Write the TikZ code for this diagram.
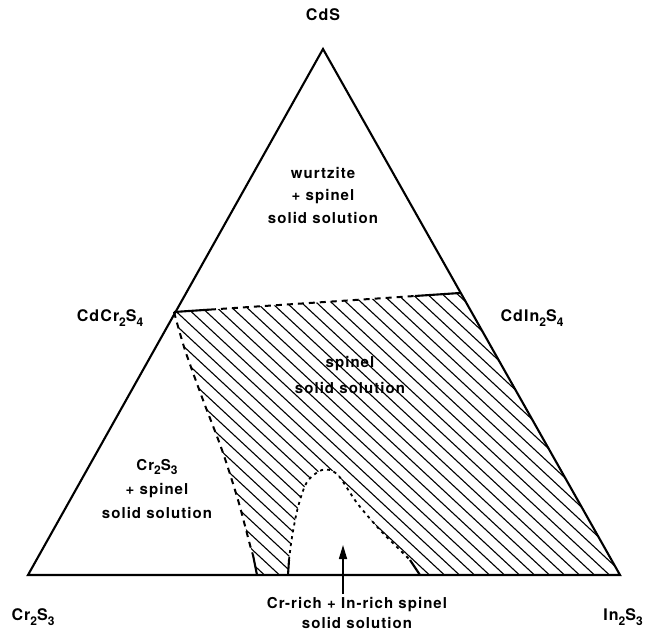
\documentclass[tikz,border=0pt]{standalone}
\usepackage{fontspec}
\setmainfont{TeX Gyre Heros}[LetterSpace=7]
\usetikzlibrary{arrows.meta}
\newcommand{\lowsub}[1]{\raisebox{-0.5ex}{\fontsize{12}{12}\selectfont #1}}
\begin{document}
\begin{tikzpicture}[x=1pt,y=-1pt,
  lbl/.style={font=\fontsize{15}{18}\selectfont\bfseries, align=center, inner sep=0pt},
  edgeline/.style={line width=2.1pt, line join=miter},
  dashbound/.style={line width=2pt, dash pattern=on 6pt off 5pt},
  dotbound/.style={line width=1.8pt, dash pattern=on 3pt off 4pt},
  hatchline/.style={line width=1.1pt}]
\useasboundingbox (0,0) rectangle (653,631);
% corners
\coordinate (T) at (323,49);
\coordinate (L) at (28,575);
\coordinate (R) at (620,575);
\coordinate (Cr) at (174,312);
\coordinate (In) at (460,293);
\coordinate (topA) at (210,309.6);
\coordinate (topB) at (415,296);
\coordinate (leftEndA) at (253,555);
\coordinate (leftEndB) at (257,575);
\coordinate (domeLa) at (288,575);
\coordinate (domeLb) at (289,560);
\coordinate (domeRa) at (410,560);
\coordinate (domeRb) at (420,575);
% hatching
\begin{scope}
\clip (Cr) -- (In) -- (R) -- (domeRb) -- (domeRa)
  -- plot[smooth] coordinates {(410,560) (400,550) (380,530) (357,503) (337,474) (322,470) (307,482) (298,507) (292,537) (289,560)}
  -- (domeLa) -- (leftEndB) -- (leftEndA)
  -- plot[smooth] coordinates {(253,555) (250,545) (238,500) (222,450) (203,400) (185,350) (174,312)} -- cycle;
\foreach \c in {-400,-385,...,700}
  \draw[hatchline] (\c,250) -- ++(400,372);
\end{scope}
% triangle
\draw[edgeline] (T) -- (L) -- (R) -- cycle;
% tie line CdCr2S4 - CdIn2S4
\draw[edgeline] (Cr) -- (topA);
\draw[dashbound] (topA) -- (topB);
\draw[edgeline] (topB) -- (In);
% left boundary
\draw[dashbound] plot[smooth] coordinates {(174,312) (185,350) (203,400) (222,450) (238,500) (250,545) (253,555)};
\draw[edgeline] (leftEndA) -- (leftEndB);
% dome
\draw[edgeline] (domeLa) -- (domeLb);
\draw[dotbound] plot[smooth] coordinates {(289,560) (292,537) (298,507) (307,482) (322,470) (337,474) (357,503) (380,530) (400,550) (410,560)};
\draw[edgeline] (domeRa) -- (domeRb);
% arrow
\coordinate (arrTail) at (343,594);
\coordinate (arrTip) at (343,545);
\draw[line width=1.6pt, -{Triangle[length=14pt,width=8pt]}] (arrTail) -- (arrTip);
% labels
\node[lbl, font=\fontsize{16}{18}\selectfont\bfseries] (lCdS) at (323,15) {CdS};
\node[lbl, font=\fontsize{16}{18}\selectfont\bfseries] (lCdCr) at (110,318) {CdCr\lowsub{2}S\lowsub{4}};
\node[lbl, font=\fontsize{16}{18}\selectfont\bfseries] (lCdIn) at (532,318) {CdIn\lowsub{2}S\lowsub{4}};
\node[lbl, font=\fontsize{16}{18}\selectfont\bfseries] (lCr) at (33,617) {Cr\lowsub{2}S\lowsub{3}};
\node[lbl, font=\fontsize{16}{18}\selectfont\bfseries] (lIn) at (623,617) {In\lowsub{2}S\lowsub{3}};
\node[lbl, font=\fontsize{15}{22.5}\selectfont\bfseries] (lWurtz) at (323,195) {wurtzite\\+ spinel\\solid solution};
\node[lbl, font=\fontsize{15}{24}\selectfont\bfseries] (lCrSp) at (157,489) {Cr\lowsub{2}S\lowsub{3}\\+ spinel\\solid solution};
\node[lbl, font=\fontsize{15}{26}\selectfont\bfseries] (lSp) at (350,375) {spinel\\solid solution};
\node[lbl, font=\fontsize{15}{20}\selectfont\bfseries] (lBottom) at (357,613) {Cr-rich + In-rich spinel\\solid solution};
\end{tikzpicture}
\end{document}
